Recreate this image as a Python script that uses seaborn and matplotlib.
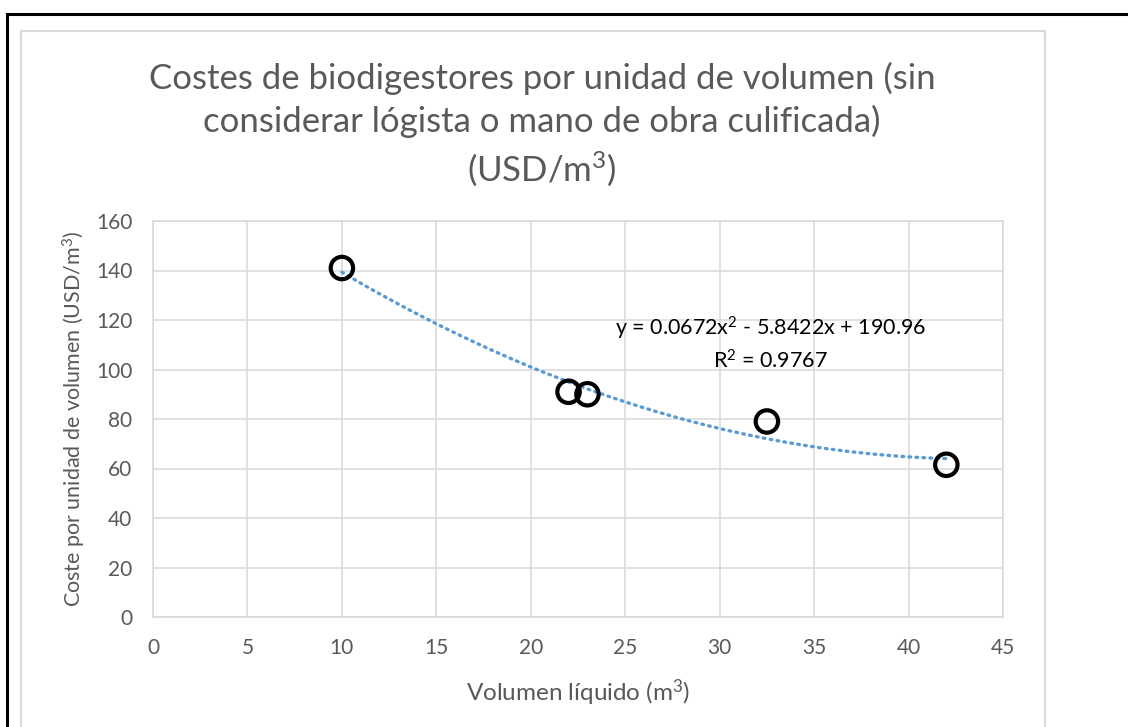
import matplotlib
matplotlib.use("Agg")
import matplotlib.pyplot as plt
import seaborn as sns
import pandas as pd
import numpy as np
from matplotlib.lines import Line2D

volumen = [10, 22, 23, 32.5, 42]
coste = [141, 91, 90, 79, 61.5]
x_ticks = [0, 5, 10, 15, 20, 25, 30, 35, 40, 45]
y_ticks = [0, 20, 40, 60, 80, 100, 120, 140, 160]
title = "Costes de biodigestores por unidad de volumen (sin\nconsiderar lógista o mano de obra culificada)\n(USD/m$^3$)"
x_label = "Volumen líquido (m$^3$)"
y_label = "Coste por unidad de volumen (USD/m$^3$)"
eq_text = "y = 0.0672x$^2$ - 5.8422x + 190.96\nR$^2$ = 0.9767"

df = pd.DataFrame({"volumen": volumen, "coste": coste})

sns.set_theme(style="white")
plt.rcParams['font.family'] = ['Lato', 'DejaVu Sans']
plt.rcParams['mathtext.fontset'] = 'custom'
plt.rcParams['mathtext.rm'] = 'Lato'
plt.rcParams['mathtext.it'] = 'Lato'
plt.rcParams['mathtext.default'] = 'regular'

W, H = 1128, 727
fig = plt.figure(figsize=(W / 100, H / 100), dpi=100)
ax = fig.add_axes([153 / W, 1 - 617 / H, (1003 - 153) / W, (617 - 221) / H])

grey = "#d9d9d9"
txt = "#595959"

sns.regplot(data=df, x="volumen", y="coste", order=2, ci=None, scatter=False,
            truncate=True, ax=ax,
            line_kws=dict(color="#5b9bd5", lw=2.4, ls=(0, (0.5, 1.6)),
                          dash_capstyle="round", zorder=2))
sns.scatterplot(data=df, x="volumen", y="coste", ax=ax, s=260, marker="o",
                facecolor="none", edgecolor="black", linewidth=3.0, zorder=3)

ax.set_xlim(0, 45)
ax.set_ylim(0, 160)
ax.set_xticks(x_ticks)
ax.set_yticks(y_ticks)
ax.grid(True, color=grey, lw=1.1)
ax.set_axisbelow(True)
for s in ax.spines.values():
    s.set_color(grey)
    s.set_linewidth(1.1)
ax.tick_params(axis="both", length=0, labelsize=15, colors=txt, pad=15)
ax.set_xlabel(x_label, fontsize=17.5, color=txt)
ax.set_ylabel(y_label, fontsize=15.5, color=txt)
ax.xaxis.set_label_coords(0.5, -0.152)
ax.yaxis.set_label_coords(-0.076, 0.5)

ax.text(32.7, 110.5, eq_text, fontsize=15.5, color="black", ha="center", va="center",
        multialignment="center", linespacing=1.4)

fig.text(542 / W, 1 - 125 / H, title, fontsize=25, color=txt, ha="center", va="center",
         linespacing=1.38)

# outer decorations: black frame and light grey chart frame
fig.add_artist(Line2D([7 / W, 7 / W], [0, 1 - 14 / H], color="black", lw=2.2,
                      transform=fig.transFigure, solid_capstyle="projecting"))
fig.add_artist(Line2D([7 / W, 1], [1 - 14 / H, 1 - 14 / H], color="black", lw=2.2,
                      transform=fig.transFigure, solid_capstyle="projecting"))
fig.add_artist(Line2D([21 / W, 21 / W, 1045 / W, 1045 / W], [0, 1 - 31 / H, 1 - 31 / H, 0],
                      color=grey, lw=1.5, transform=fig.transFigure))

fig.savefig("out.png", dpi=100)
